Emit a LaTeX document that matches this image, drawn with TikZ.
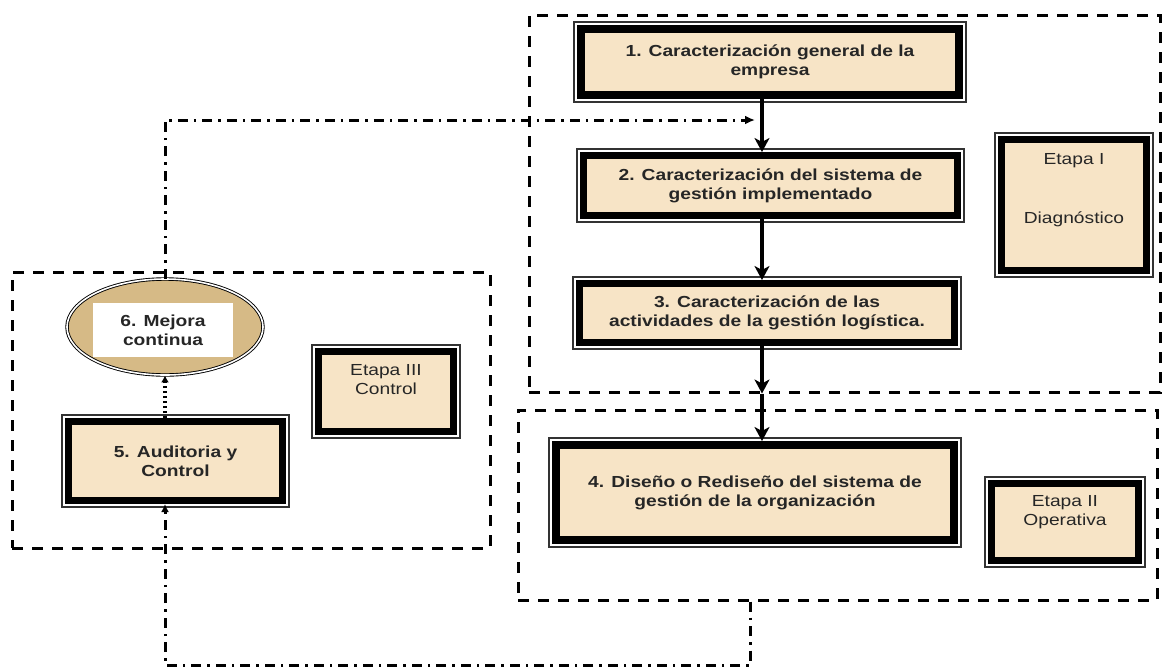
\documentclass[tikz,border=0pt]{standalone}
\usepackage{fontspec}
\setmainfont{Liberation Sans}[FakeStretch=1.2]
\usetikzlibrary{arrows.meta,shapes.geometric}
\definecolor{beige}{RGB}{247,228,198}
\definecolor{ocre}{RGB}{214,186,134}
\begin{document}
\begin{tikzpicture}[x=1pt,y=-1pt,
    paso/.style={draw=black, line width=7pt, fill=beige, align=center, text=black!85,
      font=\bfseries\fontsize{16}{19}\selectfont, inner sep=0pt},
    etapa/.style={paso, font=\fontsize{16}{19}\selectfont},
    marco/.style={draw=black, line width=3pt, dash pattern=on 11pt off 9pt, inner sep=0pt},
    flujo/.style={line width=4.5pt, -{Stealth[length=14pt,width=15pt,inset=4pt]}},
    retro/.style={line width=3pt, dash pattern=on 10pt off 6pt on 2.5pt off 6pt},
    punteado/.style={line width=3.5pt, dash pattern=on 2.5pt off 2.5pt}]
  \useasboundingbox (0,0) rectangle (1165,667);

  % etapas
  \node[marco, minimum width=631, minimum height=377] (s1) at (844.5,203.5) {};
  \node[marco, minimum width=639, minimum height=190] (s2) at (837.5,505) {};
  \node[marco, minimum width=478, minimum height=276] (s3) at (251,410) {};

  % pasos
  \node[paso, line width=8pt, minimum width=378, minimum height=66] (c1) at (770,62)
    {1. Caracterización general de la\\empresa};
  \node[paso, minimum width=374, minimum height=60] (c2) at (770.5,185.5)
    {2. Caracterización del sistema de\\gestión implementado};
  \node[paso, minimum width=375, minimum height=59] (c3) at (767,313)
    {3. Caracterización de las\\actividades de la gestión logística.};
  \node[paso, line width=8pt, minimum width=398, minimum height=95] (c4) at (755,492.5)
    {4. Diseño o Rediseño del sistema de\\gestión de la organización};
  \node[paso, minimum width=214, minimum height=79] (c5) at (175.5,461)
    {5. Auditoria y\\Control};
  \node[ellipse, draw=black, line width=0.9pt, double=white, double distance=1.6pt,
    fill=ocre, minimum width=196, minimum height=96, inner sep=0pt] (c6) at (165,327) {};
  \node[fill=white, minimum width=140, minimum height=54, align=center, text=black!85,
    font=\bfseries\fontsize{16}{19}\selectfont] (t6) at (163,330) {6. Mejora\\continua};

  \node[etapa, minimum width=145, minimum height=131] (e1) at (1074,205)
    {Etapa I\\[40pt]Diagnóstico\\[15pt]\mbox{}};
  \node[etapa, minimum width=147, minimum height=77] (e2) at (1065,522)
    {Etapa II\\Operativa\\[5pt]\mbox{}};
  \node[etapa, minimum width=135, minimum height=80] (e3) at (386,391.5)
    {Etapa III\\Control\\[6pt]\mbox{}};

  % marco fino exterior
  \foreach \n in {c1,c2,c3,c4,c5,e1,e2,e3}
    \draw[line width=1.2pt, black!80] ([shift={(-3,-3)}]\n.north west)
      rectangle ([shift={(3,3)}]\n.south east);

  % flechas
  \coordinate (spine) at (762,0);
  \draw[flujo] (spine |- c1.south) -- (spine |- c2.north);
  \draw[flujo] (spine |- c2.south) -- (spine |- c3.north);
  \draw[flujo] (spine |- c3.south) -- (spine |- s1.south);
  \draw[flujo] (spine |- s1.south) -- (spine |- c4.north);
  \draw[punteado, -{Latex[length=7pt,width=8pt]}] (c5.north -| c6) -- (c6.south);

  % retroalimentacion
  \coordinate (back) at (755,120);
  \coordinate (ret) at (750,0);
  \coordinate (low) at (0,665);
  \draw[retro, -{Latex[length=10pt,width=9pt]}] (c6.north) |- (back);
  \draw[retro, -{Latex[length=8pt,width=8pt]}] (s2.south -| ret) -- (ret |- low)
    -| (c5.south -| c6);
\end{tikzpicture}
\end{document}
